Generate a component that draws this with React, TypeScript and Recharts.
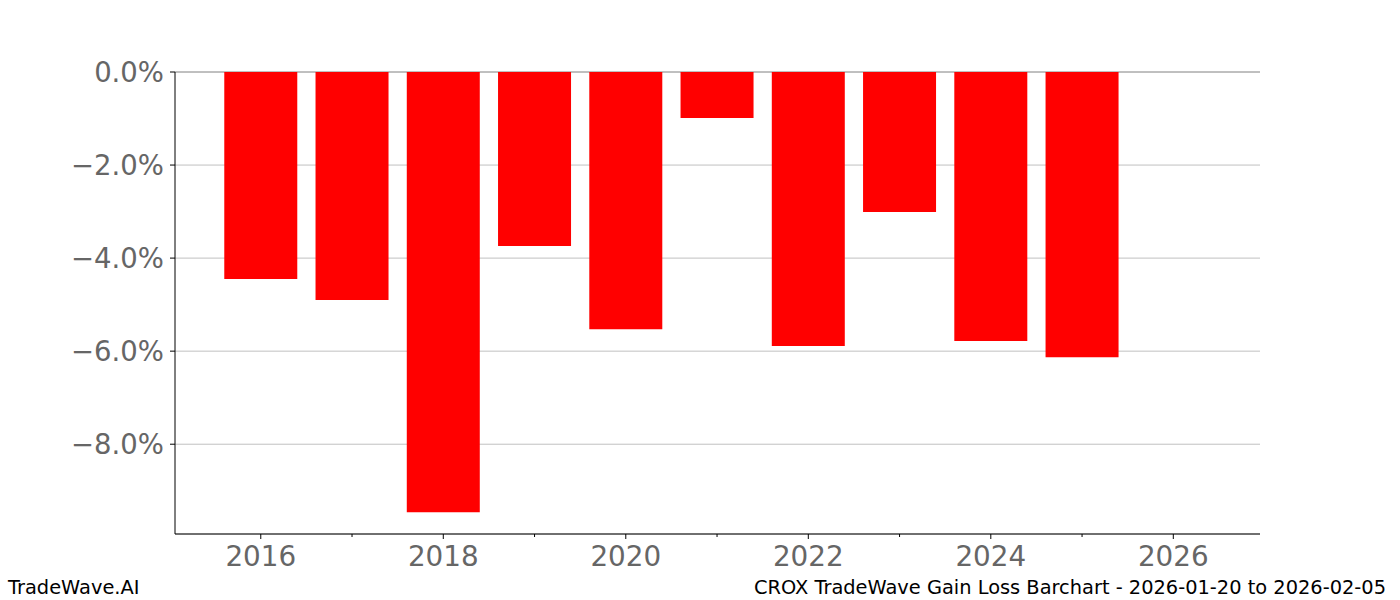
import { BarChart, Bar, XAxis, YAxis, CartesianGrid } from "recharts";

const years = [2016, 2017, 2018, 2019, 2020, 2021, 2022, 2023, 2024, 2025];
const gainLoss = [-4.45, -4.9, -9.46, -3.74, -5.53, -0.99, -5.89, -3.01, -5.78, -6.13];
const xTicks = [2016, 2017, 2018, 2019, 2020, 2021, 2022, 2023, 2024, 2025, 2026];
const yTicks = [0, -2, -4, -6, -8];

const data = years.map((year, i) => ({ year, value: gainLoss[i] }));

const TICK_COLOR = "#666666";
const FONT = "'DejaVu Sans', sans-serif";

function fmtPct(v: number) {
  const s = Math.abs(v).toFixed(1) + "%";
  return v < 0 ? "\u2212" + s : s;
}

function XTick({ x, y, payload }: any) {
  const major = payload.value % 2 === 0;
  return (
    <g>
      <line x1={x} x2={x} y1={y} y2={y + (major ? 5 : 3)} stroke="#000" strokeWidth={1} />
      {major && (
        <text x={x} y={y + 32} textAnchor="middle" fill={TICK_COLOR} fontSize={27.8} fontFamily={FONT}>
          {payload.value}
        </text>
      )}
    </g>
  );
}

function GridLine(p: any) {
  const isZero = Math.abs(p.y1 - 72) < 1.5;
  return (
    <line
      key={p.key}
      x1={p.x1}
      x2={p.x2}
      y1={p.y1}
      y2={p.y2}
      stroke={isZero ? "#808080" : "#c0c0c0"}
      strokeWidth={1}
    />
  );
}

export default function App() {
  return (
    <div
      style={{
        position: "absolute",
        left: 0,
        top: 0,
        width: 1400,
        height: 600,
        background: "#fff",
        fontFamily: FONT,
      }}
    >
      <BarChart
        width={1400}
        height={600}
        data={data}
        margin={{ top: 72, right: 140, bottom: 0, left: 0 }}
        barCategoryGap="10%"
      >
        <CartesianGrid vertical={false} horizontal={GridLine} />
        <XAxis
          dataKey="year"
          type="number"
          domain={[2015.06, 2026.95]}
          ticks={xTicks}
          interval={0}
          height={66}
          tickLine={false}
          tickSize={0}
          tickMargin={0}
          axisLine={{ stroke: "#000", strokeWidth: 1 }}
          tick={<XTick />}
          allowDataOverflow
        />
        <YAxis
          type="number"
          domain={[-9.93, 0]}
          ticks={yTicks}
          width={175}
          tickSize={5}
          tickMargin={6}
          tickLine={{ stroke: "#000" }}
          axisLine={{ stroke: "#000", strokeWidth: 1 }}
          tick={{ fill: TICK_COLOR, fontSize: 27.5, fontFamily: FONT }}
          tickFormatter={fmtPct}
          allowDataOverflow
        />
        <Bar dataKey="value" fill="#ff0000" isAnimationActive={false} />
      </BarChart>
      <svg
        width={1400}
        height={600}
        style={{ position: "absolute", left: 0, top: 0, pointerEvents: "none" }}
      >
        <text x={8} y={594} fontSize={19.4} fontFamily={FONT} fill="#000">
          TradeWave.AI
        </text>
        <text x={1386} y={594} fontSize={19.4} fontFamily={FONT} fill="#000" textAnchor="end">
          CROX TradeWave Gain Loss Barchart - 2026-01-20 to 2026-02-05
        </text>
      </svg>
    </div>
  );
}
